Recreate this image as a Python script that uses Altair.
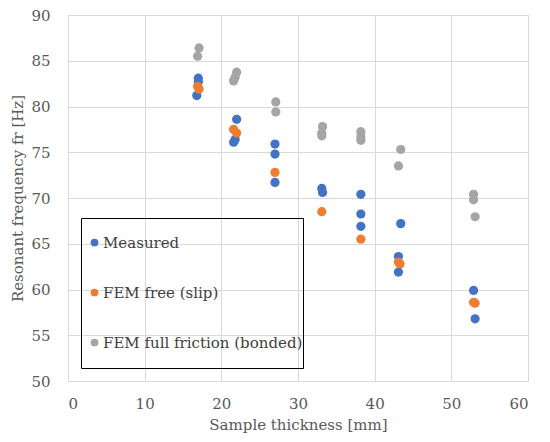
import altair as alt
import pandas as pd

# Measured
meas_x = [17.0, 17.0, 16.8, 22.0, 21.8, 21.6, 27.0, 27.0, 27.0, 33.1, 33.2, 38.2, 38.2, 38.2, 43.4, 43.1, 43.1, 52.9, 53.1]
meas_y = [83.1, 82.7, 81.2, 78.6, 76.4, 76.1, 75.9, 74.8, 71.7, 71.05, 70.6, 70.4, 68.25, 66.9, 67.2, 63.6, 61.9, 59.9, 56.8]
# FEM free (slip)
slip_x = [16.9, 17.1, 21.6, 22.0, 27.0, 33.1, 38.2, 43.1, 43.3, 52.9, 53.1]
slip_y = [82.2, 81.9, 77.5, 77.1, 72.8, 68.5, 65.5, 63.0, 62.8, 58.6, 58.5]
# FEM full friction (bonded)
bond_x = [17.1, 16.9, 22.0, 21.8, 21.6, 27.1, 27.1, 33.2, 33.1, 33.1, 38.2, 38.2, 38.2, 43.4, 43.1, 52.9, 52.9, 53.1]
bond_y = [86.4, 85.5, 83.75, 83.2, 82.8, 80.5, 79.4, 77.8, 77.1, 76.8, 77.25, 76.7, 76.3, 75.3, 73.5, 70.4, 69.8, 67.95]

names = ["Measured", "FEM free (slip)", "FEM full friction (bonded)"]
colors = ["#4472C4", "#ED7D31", "#A5A5A5"]

rows = []
for n, xs, ys in [(names[0], meas_x, meas_y), (names[1], slip_x, slip_y), (names[2], bond_x, bond_y)]:
    for a, b in zip(xs, ys):
        rows.append({"series": n, "x": a, "y": b})
df = pd.DataFrame(rows)

font = "DejaVu Serif"
grey = "#595959"

chart = alt.Chart(df).mark_circle(size=85, opacity=1).encode(
    x=alt.X("x:Q", title="Sample thickness [mm]",
            scale=alt.Scale(domain=[0, 60], nice=False),
            axis=alt.Axis(values=[0, 10, 20, 30, 40, 50, 60], tickSize=0, labelPadding=15,
                          domainColor="#D9D9D9", titlePadding=6)),
    y=alt.Y("y:Q", title="Resonant frequency fr [Hz]",
            scale=alt.Scale(domain=[50, 90], nice=False, zero=False),
            axis=alt.Axis(values=[50, 55, 60, 65, 70, 75, 80, 85, 90], tickSize=0, labelPadding=18,
                          domain=False, titlePadding=5)),
    color=alt.Color("series:N", sort=names,
                    scale=alt.Scale(domain=names, range=colors),
                    legend=alt.Legend(title=" ", titleFontSize=10, titlePadding=7,
                                      orient="none", legendX=13, legendY=203,
                                      strokeColor="black", padding=0, rowPadding=17,
                                      symbolSize=60, symbolType="circle",
                                      labelFontSize=15, labelFont=font, labelColor="#404040",
                                      labelExpr="[datum.label, '']",
                                      labelLimit=400, symbolOffset=6, labelOffset=1)),
).properties(
    width=460, height=366,
    autosize=alt.AutoSizeParams(type="none"),
    padding={"left": 60, "top": 7, "right": 14, "bottom": 60},
).configure_axis(
    gridColor="#D9D9D9", labelFont=font, titleFont=font, labelFontSize=15, titleFontSize=15,
    labelColor=grey, titleColor=grey, titleFontWeight="normal",
).configure_view(stroke=None)

chart.save("out.html", embed_options={"renderer": "svg", "actions": False})
